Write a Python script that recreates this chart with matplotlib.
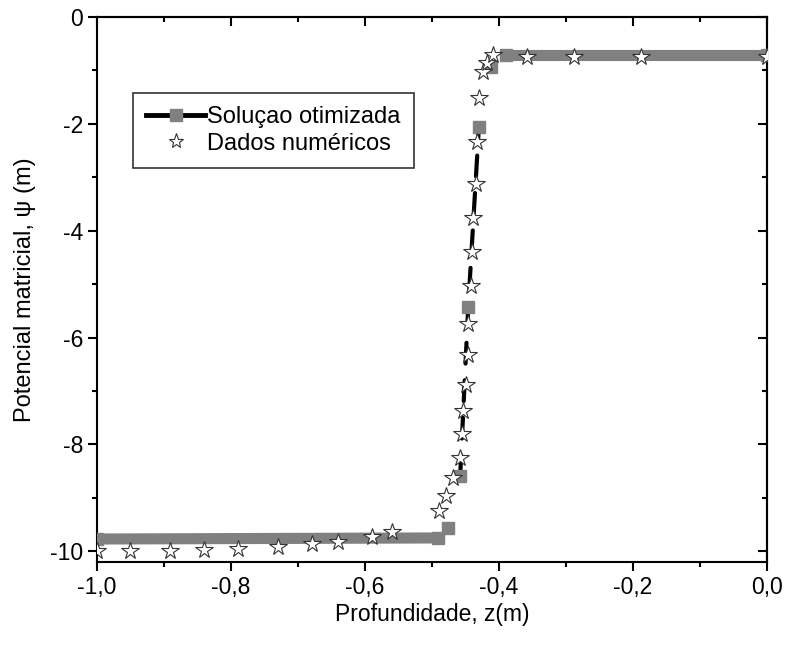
import matplotlib
matplotlib.use("Agg")
import matplotlib.pyplot as plt
from matplotlib.lines import Line2D
from matplotlib.ticker import MultipleLocator, FuncFormatter

plt.rcParams['font.family'] = ['Liberation Sans', 'DejaVu Sans']
plt.rcParams['axes.unicode_minus'] = False

# solucao otimizada
sol_z = [-1.0, -0.491, -0.476, -0.458, -0.446, -0.430, -0.412, -0.390, 0.0]
sol_psi = [-9.77, -9.75, -9.57, -8.59, -5.43, -2.05, -0.94, -0.72, -0.72]

# dados numericos
num_z = [-1.0, -0.951, -0.891, -0.840, -0.790, -0.730, -0.679, -0.640, -0.590, -0.560,
         -0.490, -0.479, -0.469, -0.458, -0.455, -0.454, -0.449,
         -0.446, -0.446, -0.442, -0.440, -0.439,
         -0.434, -0.433, -0.430, -0.424, -0.418, -0.409,
         -0.358, -0.288, -0.188, 0.0]
num_psi = [-10.0, -10.0, -10.0, -9.98, -9.96, -9.92, -9.87, -9.83, -9.74, -9.64,
           -9.25, -8.97, -8.63, -8.25, -7.80, -7.37, -6.88,
           -6.33, -5.75, -5.04, -4.40, -3.76,
           -3.12, -2.33, -1.52, -1.02, -0.86, -0.72,
           -0.75, -0.75, -0.75, -0.75]

gray = '#808080'
fs = 16.5

fig = plt.figure(figsize=(7.85, 6.47), dpi=100)
ax = fig.add_axes([0.1236, 0.1314, 0.8535, 0.8423])

# linha tracejada preta (trecho ingreme)
ax.plot(sol_z[3:6], sol_psi[3:6], color='black', lw=3, ls=(0, (5, 4)),
        dash_capstyle='round', zorder=2)
# faixas cinzas (marcadores densos nos patamares)
ax.plot(sol_z[:2], sol_psi[:2], color=gray, lw=8, solid_capstyle='butt', zorder=3)
ax.plot(sol_z[7:], sol_psi[7:], color=gray, lw=8, solid_capstyle='butt', zorder=3)
ax.plot(sol_z, sol_psi, ls='none', marker='s', ms=8, mfc=gray, mec=gray, zorder=3)

ax.plot(num_z, num_psi, ls='none', marker='*', ms=13, mfc='white', mec='#333333',
        mew=0.8, zorder=4)

ax.set_xlim(-1.0, 0.0)
ax.set_ylim(-10.2, 0)
ax.xaxis.set_major_locator(MultipleLocator(0.2))
ax.xaxis.set_minor_locator(MultipleLocator(0.1))
ax.yaxis.set_major_locator(MultipleLocator(2))
ax.yaxis.set_minor_locator(MultipleLocator(1))
ax.xaxis.set_major_formatter(FuncFormatter(lambda v, p: f"{v:.1f}".replace('.', ',').replace('-0,0', '0,0')))
ax.yaxis.set_major_formatter(FuncFormatter(lambda v, p: f"{v:.0f}"))

for s in ax.spines.values():
    s.set_linewidth(1.5)
ax.tick_params(which='major', direction='out', length=6.5, width=1.5, labelsize=fs, pad=3.5)
ax.tick_params(which='minor', direction='out', length=3.8, width=1.5)

# eixos de cima e da direita com ticks para dentro
top = ax.secondary_xaxis('top')
top.xaxis.set_major_locator(MultipleLocator(0.2))
top.xaxis.set_minor_locator(MultipleLocator(0.1))
top.tick_params(which='major', direction='in', length=6.5, width=1.5, labeltop=False)
top.tick_params(which='minor', direction='in', length=3.8, width=1.5)
right = ax.secondary_yaxis('right')
right.yaxis.set_major_locator(MultipleLocator(2))
right.yaxis.set_minor_locator(MultipleLocator(1))
right.tick_params(which='major', direction='in', length=6.5, width=1.5, labelright=False)
right.tick_params(which='minor', direction='in', length=3.8, width=1.5)
for sec in (top, right):
    for s in sec.spines.values():
        s.set_linewidth(1.5)

ax.set_xlabel('Profundidade, z(m)', fontsize=fs, labelpad=3)
ax.set_ylabel('Potencial matricial, ψ (m)', fontsize=17, labelpad=10)

handles = [
    Line2D([], [], color='black', lw=3.5, marker='s', ms=8, mfc=gray, mec=gray),
    Line2D([], [], ls='none', marker='*', ms=11, mfc='white', mec='#333333', mew=0.8),
]
leg = ax.legend(handles, ['Soluçao otimizada', 'Dados numéricos'], loc='upper left',
                bbox_to_anchor=(0.0537, 0.8606), borderaxespad=0, fontsize=17,
                frameon=True, fancybox=False, edgecolor='black', handlelength=2.5,
                handletextpad=0.1, labelspacing=0.2, borderpad=0.55)
leg.get_frame().set_linewidth(1.2)

fig.savefig('out.png', dpi=100)
